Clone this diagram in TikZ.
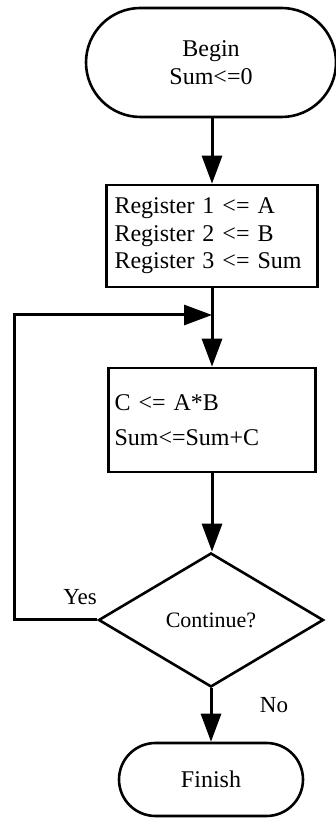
\documentclass[tikz,border=0pt]{standalone}
\usepackage{fontspec}
\setmainfont{Liberation Serif}
\usetikzlibrary{arrows.meta,shapes.geometric,shapes.misc}

\tikzset{
  shape line/.style={draw=black, line width=2.6pt},
  terminal/.style={shape line, rounded rectangle, inner sep=0pt,
    font=\fontsize{24}{27.5}\selectfont, align=center},
  procbox/.style={shape line, rectangle, text width=195pt, align=left,
    font=\fontsize{24}{27.5}\selectfont},
  decision/.style={shape line, diamond, aspect=1.68, inner sep=0pt,
    minimum width=225pt, minimum height=134pt, font=\fontsize{22}{26}\selectfont},
  flow/.style={line width=3pt, -{Triangle[length=28pt,width=20pt]}},
  flowline/.style={line width=3pt},
  answer/.style={font=\fontsize{23}{26}\selectfont}
}

\begin{document}
\begin{tikzpicture}[x=1pt, y=1pt]
	%%%%% START %%%%%
	\useasboundingbox (0, 0) rectangle (335, 818);
	
	\node[terminal, minimum width=250pt, minimum height=109pt] (begin) at (211, 755.5) {Begin\\Sum<=0};
	
	\node[procbox, inner xsep=8pt, minimum height=102pt] (load) at (212, 582)
		{Register 1 <= A\\Register 2 <= B\\Register 3 <= Sum};
	
	\coordinate (join) at (212, 503);
	\coordinate (back) at (14, 503);
	
	\node[procbox, inner xsep=6pt, minimum height=104pt,
		font=\fontsize{24}{35}\selectfont] (mac) at (212, 398) {C <= A*B\\Sum<=Sum+C};
	
	\node[decision] (cont) at (211, 198) {Continue?};
	
	\node[terminal, minimum width=184pt, minimum height=73pt] (finish) at (211, 38.5) {Finish};
	
	\node[answer] (yes) at (80, 221) {Yes};
	\node[answer] (no) at (274, 113) {No};
	
	% main flow
	\draw[flow] (begin.south -| load.north) -- (load.north);
	\draw[flowline] (load.south) -- (join);
	\draw[flow] (join) -- (mac.north);
	\draw[flow] (mac.south) -- (mac.south |- cont.north);
	\draw[flow] (cont.south) -- (cont.south |- finish.north);
	
	% loop back on yes
	\draw[flow] (cont.west) -| (back) -- (join);
	
	%%%%% END %%%%%
\end{tikzpicture}
\end{document}
